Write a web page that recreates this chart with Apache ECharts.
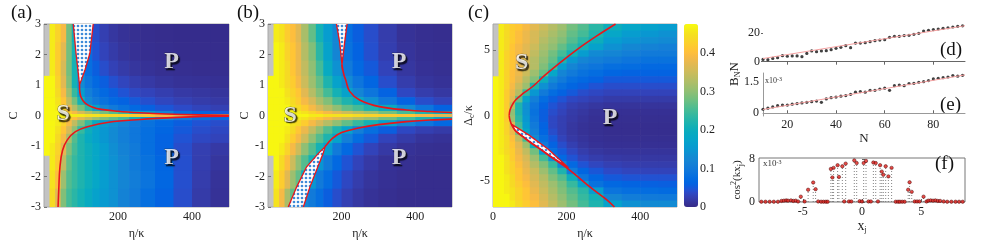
<!DOCTYPE html>
<html><head><meta charset="utf-8">
<script src="https://cdn.jsdelivr.net/npm/echarts@6/dist/echarts.min.js"></script>
<style>html,body{margin:0;padding:0;background:#fff}#c{width:983px;height:247px}</style>
</head><body><div id="c"></div><script>
// ---------- data ----------
const etaEdgesAB = [0,15,30,45,60,75,90,110,130,150,175,200,230,260,300,350,400,450,500];
const cEdges = [-3,-2.4,-1.8,-1.3,-0.9,-0.6,-0.35,-0.15,-0.05,0.05,0.15,0.35,0.6,0.9,1.3,1.8,2.4,3];
const etaEdgesC = [0,15,30,45,60,80,100,125,150,175,200,230,260,300,350,400,450,500];
const deltaEdges = [-7,-6.5,-6,-5.5,-5,-4.5,-4,-3.5,-3,-2.5,-2,-1.5,-1,-0.5,0,0.5,1,1.5,2,2.5,3,3.5,4,4.5,5,5.5,6,6.5,7];

// B_N N maps, rows listed from top (largest C / Delta) to bottom
const mapA = [
 [null,0.46,0.43,0.39,0.28,0.2,0.12,0.08,0.04,0.025,0.015,0.01,0.007,0.005,0.004,0.003,0.003,0.003],
 [null,0.46,0.42,0.37,0.28,0.21,0.13,0.08,0.045,0.03,0.02,0.013,0.009,0.006,0.005,0.004,0.004,0.004],
 [null,0.46,0.42,0.36,0.28,0.21,0.13,0.08,0.055,0.04,0.028,0.02,0.014,0.01,0.007,0.006,0.005,0.005],
 [0.47,0.47,0.43,0.37,0.29,0.21,0.13,0.09,0.07,0.055,0.042,0.032,0.024,0.018,0.013,0.01,0.009,0.008],
 [0.47,0.47,0.44,0.39,0.31,0.24,0.16,0.11,0.085,0.07,0.055,0.045,0.036,0.03,0.024,0.018,0.015,0.013],
 [0.47,0.47,0.45,0.41,0.34,0.28,0.21,0.13,0.1,0.085,0.07,0.06,0.05,0.042,0.033,0.026,0.021,0.018],
 [0.47,0.47,0.46,0.43,0.38,0.33,0.28,0.23,0.17,0.12,0.1,0.085,0.07,0.058,0.047,0.038,0.031,0.026],
 [0.47,0.47,0.47,0.45,0.42,0.39,0.36,0.33,0.3,0.28,0.26,0.24,0.2,0.16,0.12,0.08,0.06,0.05],
 [0.47,0.47,0.47,0.47,0.47,0.46,0.46,0.45,0.45,0.44,0.44,0.43,0.42,0.41,0.39,0.36,0.32,0.3],
 [0.47,0.47,0.47,0.45,0.43,0.4,0.37,0.34,0.31,0.29,0.27,0.25,0.21,0.17,0.13,0.1,0.08,0.07],
 [0.47,0.47,0.46,0.43,0.39,0.34,0.29,0.24,0.19,0.16,0.14,0.12,0.1,0.085,0.07,0.055,0.045,0.04],
 [0.47,0.47,0.45,0.41,0.36,0.3,0.24,0.2,0.17,0.15,0.13,0.11,0.095,0.08,0.065,0.05,0.04,0.035],
 [0.47,0.47,0.44,0.39,0.32,0.26,0.22,0.19,0.17,0.15,0.13,0.11,0.095,0.08,0.06,0.045,0.035,0.03],
 [0.47,0.46,0.43,0.37,0.29,0.25,0.22,0.2,0.18,0.16,0.135,0.115,0.1,0.08,0.06,0.04,0.025,0.018],
 [null,0.46,0.42,0.34,0.27,0.24,0.22,0.2,0.18,0.16,0.14,0.12,0.1,0.085,0.065,0.042,0.024,0.014],
 [null,0.45,0.4,0.31,0.26,0.24,0.22,0.2,0.18,0.16,0.14,0.12,0.105,0.088,0.066,0.042,0.022,0.011],
 [null,0.44,0.37,0.29,0.25,0.23,0.21,0.19,0.17,0.155,0.14,0.115,0.1,0.08,0.06,0.04,0.02,0.01]
];
const mapB = [
 [null,0.46,0.45,0.42,0.4,0.37,0.32,0.27,0.21,0.16,0.12,0.08,0.055,0.04,0.022,0.01,0.006,0.005],
 [null,0.47,0.46,0.43,0.41,0.38,0.33,0.29,0.23,0.17,0.12,0.085,0.06,0.042,0.024,0.012,0.007,0.006],
 [null,0.47,0.46,0.44,0.41,0.38,0.34,0.3,0.25,0.19,0.14,0.1,0.07,0.05,0.03,0.015,0.009,0.007],
 [0.47,0.47,0.46,0.44,0.42,0.39,0.35,0.31,0.27,0.22,0.17,0.13,0.09,0.065,0.04,0.022,0.013,0.01],
 [0.47,0.47,0.47,0.45,0.43,0.41,0.37,0.33,0.29,0.25,0.21,0.17,0.12,0.09,0.06,0.035,0.022,0.016],
 [0.47,0.47,0.47,0.46,0.44,0.42,0.39,0.36,0.32,0.29,0.25,0.22,0.19,0.14,0.095,0.06,0.04,0.03],
 [0.47,0.47,0.47,0.47,0.45,0.44,0.42,0.39,0.36,0.33,0.3,0.27,0.25,0.22,0.19,0.13,0.09,0.06],
 [0.47,0.47,0.47,0.47,0.47,0.46,0.45,0.43,0.41,0.39,0.37,0.35,0.33,0.31,0.28,0.25,0.22,0.2],
 [0.47,0.47,0.47,0.47,0.47,0.47,0.47,0.46,0.46,0.45,0.45,0.45,0.44,0.43,0.42,0.41,0.39,0.37],
 [0.47,0.47,0.47,0.47,0.47,0.46,0.45,0.43,0.41,0.39,0.37,0.35,0.33,0.31,0.28,0.25,0.22,0.18],
 [0.47,0.47,0.47,0.47,0.45,0.44,0.42,0.39,0.36,0.33,0.3,0.27,0.24,0.21,0.17,0.12,0.09,0.07],
 [0.47,0.47,0.47,0.46,0.44,0.41,0.38,0.34,0.3,0.26,0.22,0.17,0.11,0.08,0.055,0.035,0.025,0.02],
 [0.47,0.47,0.47,0.45,0.42,0.39,0.35,0.3,0.26,0.22,0.17,0.11,0.075,0.05,0.03,0.02,0.012,0.01],
 [0.47,0.47,0.46,0.43,0.39,0.35,0.3,0.26,0.21,0.16,0.1,0.07,0.045,0.03,0.018,0.01,0.007,0.006],
 [null,0.47,0.44,0.4,0.35,0.3,0.26,0.21,0.15,0.1,0.07,0.045,0.03,0.018,0.01,0.007,0.005,0.005],
 [null,0.46,0.42,0.37,0.31,0.27,0.2,0.15,0.1,0.075,0.05,0.035,0.022,0.013,0.008,0.005,0.004,0.004],
 [null,0.45,0.39,0.32,0.27,0.2,0.12,0.1,0.08,0.055,0.04,0.026,0.016,0.01,0.006,0.004,0.004,0.004]
];
const mapC = [
 [null,0.46,0.44,0.42,0.41,0.39,0.37,0.35,0.33,0.31,0.28,0.26,0.23,0.2,0.18,0.17,0.16],
 [null,0.46,0.44,0.42,0.4,0.38,0.36,0.34,0.32,0.3,0.27,0.25,0.22,0.18,0.16,0.15,0.14],
 [null,0.46,0.44,0.42,0.4,0.38,0.36,0.33,0.31,0.29,0.26,0.23,0.2,0.16,0.145,0.135,0.13],
 [null,0.46,0.44,0.41,0.39,0.37,0.35,0.32,0.3,0.27,0.24,0.21,0.17,0.14,0.125,0.115,0.11],
 [null,0.46,0.43,0.41,0.39,0.37,0.34,0.31,0.28,0.25,0.21,0.16,0.13,0.12,0.11,0.1,0.1],
 [null,0.46,0.43,0.41,0.39,0.36,0.33,0.3,0.27,0.22,0.15,0.12,0.11,0.1,0.09,0.085,0.085],
 [null,0.46,0.43,0.41,0.38,0.36,0.33,0.29,0.25,0.16,0.12,0.1,0.09,0.08,0.075,0.07,0.07],
 [null,0.46,0.43,0.4,0.38,0.35,0.31,0.27,0.18,0.12,0.1,0.085,0.075,0.065,0.06,0.06,0.06],
 [0.47,0.46,0.43,0.4,0.37,0.33,0.29,0.2,0.13,0.1,0.08,0.07,0.06,0.05,0.05,0.05,0.05],
 [0.47,0.46,0.43,0.39,0.35,0.31,0.22,0.14,0.1,0.08,0.065,0.055,0.045,0.04,0.04,0.04,0.04],
 [0.47,0.46,0.42,0.38,0.33,0.24,0.15,0.1,0.075,0.06,0.05,0.04,0.035,0.03,0.03,0.03,0.03],
 [0.47,0.46,0.42,0.37,0.27,0.17,0.11,0.075,0.055,0.045,0.035,0.03,0.025,0.02,0.02,0.02,0.02],
 [0.47,0.46,0.42,0.33,0.22,0.14,0.09,0.06,0.045,0.035,0.025,0.02,0.015,0.012,0.012,0.012,0.012],
 [0.47,0.46,0.42,0.3,0.22,0.14,0.085,0.055,0.04,0.03,0.02,0.015,0.01,0.008,0.008,0.008,0.008],
 [0.47,0.46,0.42,0.31,0.23,0.15,0.09,0.055,0.035,0.025,0.018,0.012,0.008,0.006,0.006,0.006,0.006],
 [0.47,0.46,0.43,0.36,0.25,0.16,0.1,0.06,0.035,0.025,0.015,0.01,0.007,0.005,0.005,0.005,0.005],
 [0.47,0.46,0.43,0.38,0.28,0.18,0.11,0.065,0.04,0.025,0.015,0.01,0.007,0.005,0.005,0.005,0.005],
 [0.47,0.46,0.44,0.4,0.34,0.25,0.13,0.08,0.05,0.03,0.018,0.012,0.008,0.006,0.006,0.006,0.006],
 [0.47,0.46,0.44,0.41,0.37,0.31,0.2,0.1,0.06,0.04,0.025,0.015,0.01,0.008,0.008,0.008,0.008],
 [0.47,0.46,0.44,0.42,0.38,0.34,0.28,0.16,0.08,0.05,0.035,0.022,0.015,0.012,0.012,0.012,0.012],
 [0.47,0.47,0.45,0.42,0.39,0.36,0.31,0.25,0.14,0.07,0.045,0.03,0.022,0.018,0.016,0.016,0.016],
 [0.47,0.47,0.45,0.43,0.4,0.37,0.33,0.29,0.24,0.12,0.07,0.045,0.033,0.026,0.023,0.022,0.022],
 [0.47,0.47,0.45,0.43,0.41,0.38,0.35,0.31,0.27,0.22,0.1,0.065,0.048,0.037,0.032,0.03,0.03],
 [0.47,0.47,0.46,0.44,0.41,0.39,0.36,0.33,0.29,0.26,0.2,0.09,0.065,0.05,0.046,0.044,0.044],
 [0.47,0.47,0.46,0.44,0.42,0.4,0.37,0.34,0.31,0.28,0.24,0.17,0.085,0.068,0.062,0.058,0.056],
 [0.47,0.47,0.46,0.45,0.43,0.41,0.38,0.35,0.32,0.29,0.26,0.23,0.16,0.088,0.08,0.075,0.072],
 [0.47,0.47,0.47,0.45,0.43,0.41,0.39,0.36,0.33,0.3,0.27,0.24,0.21,0.12,0.105,0.1,0.098],
 [0.47,0.47,0.47,0.46,0.44,0.42,0.4,0.37,0.34,0.31,0.28,0.25,0.22,0.17,0.14,0.13,0.13]
];

// phase boundaries (eta, C) and (eta, Delta)
const boundAUpper = [[96,1.0],[97,0.75],[102,0.55],[112,0.4],[130,0.28],[155,0.2],[200,0.14],[260,0.09],[330,0.05],[420,0.02],[500,0.01]];
const boundALower = [[38,-3],[40,-2.4],[43,-1.7],[50,-1.15],[63,-0.8],[85,-0.53],[120,-0.36],[175,-0.22],[260,-0.13],[360,-0.06],[430,-0.03],[500,-0.02]];
const hatchA = [[79,3],[86.5,2.04],[92.7,1.38],[96,1.0],[111,1.5],[124,2.04],[133,3]];
const boundBUpper = [[201,1.66],[206,1.35],[211,1.17],[222,0.79],[249,0.51],[303,0.29],[376,0.18],[440,0.13],[500,0.1]];
const boundBLower = [[155,-1.02],[175,-0.75],[200,-0.56],[250,-0.4],[300,-0.3],[376,-0.2],[440,-0.15],[500,-0.12]];
const hatchBTop = [[186,3],[195,2.38],[201,1.66],[208,2.38],[215,3]];
const hatchBBottom = [[55,-3],[78,-2.34],[105,-1.68],[137,-1.24],[155,-1.02],[150,-1.24],[132,-1.79],[114,-2.34],[96,-3]];
const boundCUpper = [[44,0],[46,0.4],[52,0.8],[62,1.2],[80,1.65],[107,2.2],[142,3.1],[185,4.1],[231,5.1],[280,6.05],[333,7]];
const boundCLower = [[44,0],[46,-0.35],[52,-0.8],[62,-1.2],[80,-1.6],[98,-2.0],[124,-2.5],[151,-3.05],[205,-4.1],[258,-5.35],[307,-6.4],[330,-7]];
const hatchC = [[52,-0.7],[98,-1.5],[151,-2.6],[205,-4.0],[151,-3.0],[98,-1.95],[60,-1.15]];

// panels (d), (e)
const nValues = [10,12,14,16,18,20,22,24,26,28,30,32,34,36,38,40,42,44,46,48,50,52,54,56,58,60,62,64,66,68,70,72,74,76,78,80,82,84,86,88,90,92];
const dValues = [1.6,1.4,2.3,2.8,4.2,3.8,4.0,4.0,3.5,5.8,7.5,7.0,7.5,7.7,8.4,9.3,10.0,11.2,9.8,13.0,13.0,13.3,14.0,14.7,15.1,15.4,17.0,17.7,17.7,18.2,18.4,19.1,19.8,21.4,21.9,22.4,22.8,23.3,23.7,24.2,24.7,25.0];
const eValues = [0.19,0.24,0.30,0.36,0.39,0.39,0.43,0.46,0.49,0.52,0.55,0.58,0.52,0.68,0.74,0.77,0.81,0.84,0.90,1.0,1.03,1.0,1.09,1.09,1.15,1.19,1.09,1.31,1.34,1.31,1.41,1.42,1.47,1.50,1.55,1.63,1.66,1.69,1.72,1.79,1.76,1.8];
const dFit = [[10,2.2],[93,25.1]];
const eFit = [[10,0.18],[93,1.82]];

// panel (f)
const fX = [-8.5,-8.15,-7.8,-7.45,-7.1,-6.8,-6.6,-6.4,-6.25,-6.0,-5.8,-5.6,-5.4,-5.17,-4.85,-4.55,-4.12,-3.92,-3.7,-3.45,-3.25,-3.05,-2.9,
 -2.63,-2.5,-2.4,-2.06,-1.95,-1.66,-1.5,-1.38,-1.1,-0.9,-0.65,-0.45,-0.2,0.0,0.14,0.34,0.55,0.75,0.96,1.16,1.35,1.53,1.67,1.8,2.0,2.23,2.5,
 2.85,3.05,3.2,3.4,3.6,3.9,4.02,4.2,4.45,4.65,4.85,5.2,5.45,5.6,5.8,6.0,6.2,6.4,6.6,6.9,7.2,7.55,7.9,8.2,8.5];
const fV = [0.05,0.05,0.05,0.05,0.05,0.2,0.25,0.3,0.25,0.3,0.2,0.25,0.1,1.0,0.1,2.3,3.65,2.4,0.1,0.05,0.05,0.05,0.05,
 6.2,4.6,6.4,6.9,4.7,6.7,0.1,7.2,0.1,0.1,7.8,7.3,0.15,0.1,7.3,7.7,0.1,0.1,7.4,7.3,0.1,6.9,5.7,5.1,6.7,4.8,6.4,
 0.05,0.05,0.05,0.05,0.05,2.3,3.7,1.9,0.1,0.1,0.1,1.0,0.1,0.25,0.3,0.25,0.3,0.2,0.2,0.1,0.05,0.05,0.05,0.05,0.05];

// tick labels
const etaTicksAB = [200,400];
const etaTicksC = [0,200,400];
const cTicks = [-3,-2,-1,0,1,2,3];
const deltaTicks = [-5,0,5];
const cbarTicks = [0,0.1,0.2,0.3,0.4];
const nTicks = [20,40,60,80];
const xjTicks = [-5,0,5];

// ---------- rendering ----------
const FONT = "'Liberation Serif','Times New Roman',serif";
const parulaRGB = [[0.2081,0.1663,0.5292],[0.2116,0.1898,0.5777],[0.2123,0.2138,0.6270],[0.2081,0.2386,0.6771],[0.1959,0.2645,0.7279],
 [0.1707,0.2919,0.7792],[0.1253,0.3242,0.8303],[0.0591,0.3598,0.8683],[0.0117,0.3875,0.8820],[0.0060,0.4086,0.8828],[0.0165,0.4266,0.8786],
 [0.0329,0.4430,0.8720],[0.0498,0.4586,0.8641],[0.0629,0.4737,0.8554],[0.0723,0.4887,0.8467],[0.0779,0.5040,0.8384],[0.0793,0.5200,0.8312],
 [0.0749,0.5375,0.8263],[0.0641,0.5570,0.8240],[0.0488,0.5772,0.8228],[0.0343,0.5966,0.8199],[0.0265,0.6137,0.8135],[0.0239,0.6287,0.8038],
 [0.0231,0.6418,0.7913],[0.0228,0.6535,0.7768],[0.0267,0.6642,0.7607],[0.0384,0.6743,0.7436],[0.0590,0.6838,0.7254],[0.0843,0.6928,0.7062],
 [0.1133,0.7015,0.6859],[0.1453,0.7098,0.6646],[0.1801,0.7177,0.6424],[0.2178,0.7250,0.6193],[0.2586,0.7317,0.5954],[0.3022,0.7376,0.5712],
 [0.3482,0.7424,0.5473],[0.3953,0.7459,0.5244],[0.4420,0.7481,0.5033],[0.4871,0.7491,0.4840],[0.5300,0.7491,0.4661],[0.5709,0.7485,0.4494],
 [0.6099,0.7473,0.4337],[0.6473,0.7456,0.4188],[0.6834,0.7435,0.4044],[0.7184,0.7411,0.3905],[0.7525,0.7384,0.3768],[0.7858,0.7356,0.3633],
 [0.8185,0.7327,0.3498],[0.8507,0.7299,0.3360],[0.8824,0.7274,0.3217],[0.9139,0.7258,0.3063],[0.9450,0.7261,0.2886],[0.9739,0.7314,0.2666],
 [0.9938,0.7455,0.2403],[0.9990,0.7653,0.2164],[0.9955,0.7861,0.1967],[0.9880,0.8066,0.1794],[0.9789,0.8271,0.1633],[0.9697,0.8481,0.1475],
 [0.9626,0.8705,0.1309],[0.9589,0.8949,0.1132],[0.9598,0.9218,0.0948],[0.9661,0.9514,0.0755],[0.9763,0.9831,0.0538]];
const parula = parulaRGB.map(c => 'rgb(' + c.map(v => Math.round(v*255)).join(',') + ')');
const RED = '#e8161b';

function buildCells(xe, ye, rows){
  const out = []; const nR = ye.length - 1;
  rows.forEach((row, ri) => {
    const yi = nR - 1 - ri;
    row.forEach((v, ci) => { if (v != null) out.push([xe[ci], xe[ci+1], ye[yi], ye[yi+1], v]); });
  });
  return out;
}
function cellRender(params, api){
  const p0 = api.coord([api.value(0), api.value(3)]);
  const p1 = api.coord([api.value(1), api.value(2)]);
  return {type:'rect', shape:{x:p0[0], y:p0[1], width:p1[0]-p0[0]+0.6, height:p1[1]-p0[1]+0.6},
    style:{fill: api.visual('color')}};
}
const pc = document.createElement('canvas'); pc.width = 4; pc.height = 4;
const g = pc.getContext('2d'); g.fillStyle = '#ffffff'; g.fillRect(0,0,4,4);
g.fillStyle = '#3d8ad8'; g.beginPath(); g.arc(2,2,1.35,0,Math.PI*2); g.fill();
const patternFill = {image: pc, repeat: 'repeat'};

function heatSeries(gi, xe, ye, rows){
  return {type:'custom', xAxisIndex:gi, yAxisIndex:gi, data: buildCells(xe, ye, rows),
    encode:{x:[0,1], y:[2,3]}, renderItem: cellRender, silent:true, z:1, clip:true};
}
function hatchSeries(gi, pts, closed){
  return {type:'custom', xAxisIndex:gi, yAxisIndex:gi, data:[[pts[0][0], pts[0][1]]], silent:true, z:3, clip:true,
    renderItem:(params, api) => {
      const p = pts.map(q => api.coord(q));
      return {type:'group', children:[
        {type:'polygon', shape:{points:p}, style:{fill: patternFill}},
        {type: closed ? 'polygon' : 'polyline', shape:{points:p}, style:{fill:null, stroke:RED, lineWidth:1.3}}
      ]};
    }};
}
function lineSeries(gi, pts, width){
  return {type:'line', xAxisIndex:gi, yAxisIndex:gi, data:pts, smooth:0.4, symbol:'none', silent:true, z:4,
    lineStyle:{color:RED, width: width || 1.6}};
}
function phaseLabels(gi, items){
  return {type:'scatter', xAxisIndex:gi, yAxisIndex:gi, data:items, symbolSize:0, silent:true, z:6,
    label:{show:true, position:'inside', formatter: p => p.data[2], fontFamily:FONT, fontWeight:'bold', fontSize:24,
      color:'#ffffff', textBorderColor:'#222', textBorderWidth:0.5, textShadowColor:'rgba(0,0,0,0.9)',
      textShadowBlur:1, textShadowOffsetX:1.5, textShadowOffsetY:1.5}};
}
const lblStyle = {fontFamily:FONT, fontSize:12, color:'#222'};
const subRich = {s:{fontFamily:FONT, fontSize:8, color:'#222', padding:[7,0,0,0]},
                 u:{fontFamily:FONT, fontSize:8, color:'#222', padding:[0,0,7,0]}};

function etaAxis(gi, ticks){
  return {gridIndex:gi, type:'value', min:0, max:500, splitLine:{show:false}, axisLine:{show:false},
    axisTick:{show:true, inside:true, length:3, customValues:ticks, lineStyle:{color:'#777'}},
    axisLabel:Object.assign({customValues:ticks, margin:4}, lblStyle),
    name:'η/κ', nameLocation:'middle', nameGap:17, nameTextStyle:Object.assign({}, lblStyle)};
}
function cAxis(gi, gap){
  return {gridIndex:gi, type:'value', min:-3, max:3, splitLine:{show:false}, axisLine:{show:false},
    axisTick:{show:true, inside:true, length:3, customValues:cTicks, lineStyle:{color:'#777'}},
    axisLabel:Object.assign({customValues:cTicks, margin:3}, lblStyle),
    name:'C', nameLocation:'middle', nameGap:gap, nameTextStyle:Object.assign({}, lblStyle)};
}
const heatGrid = {show:true, backgroundColor:'#c3c3c3', borderColor:'#a8a8a8', borderWidth:1};

const option = {
  animation:false,
  grid:[
    Object.assign({left:44, top:24, width:185, height:183}, heatGrid),
    Object.assign({left:268, top:24, width:184, height:183}, heatGrid),
    Object.assign({left:493, top:24, width:184, height:183}, heatGrid),
    {left:684, top:24, width:14, height:183},
    {left:763, top:23, width:202, height:43},
    {left:763, top:73, width:202, height:43},
    {left:759, top:158, width:206, height:44, show:true, borderColor:'#777', borderWidth:1}
  ],
  xAxis:[
    etaAxis(0, etaTicksAB), etaAxis(1, etaTicksAB), etaAxis(2, etaTicksC),
    {gridIndex:3, type:'value', show:false, min:0, max:1},
    {gridIndex:4, type:'value', position:'top', min:10, max:93, splitLine:{show:false},
      axisLine:{show:true, lineStyle:{color:'#666'}}, axisLabel:{show:false},
      axisTick:{show:true, inside:true, length:3, customValues:nTicks, lineStyle:{color:'#666'}}},
    {gridIndex:5, type:'value', min:10, max:93, splitLine:{show:false},
      axisLine:{show:true, lineStyle:{color:'#999'}},
      axisTick:{show:true, inside:true, length:3, customValues:nTicks, lineStyle:{color:'#666'}},
      axisLabel:Object.assign({customValues:nTicks, margin:3}, lblStyle),
      name:'N', nameLocation:'middle', nameGap:16, nameTextStyle:Object.assign({}, lblStyle, {fontSize:13})},
    {gridIndex:6, type:'value', min:-8.7, max:8.7, splitLine:{show:false}, axisLine:{show:false},
      axisTick:{show:true, inside:true, length:3, customValues:xjTicks, lineStyle:{color:'#666'}},
      axisLabel:Object.assign({customValues:xjTicks, margin:4}, lblStyle),
      name:'x{s|j}', nameLocation:'middle', nameGap:17, nameTextStyle:Object.assign({}, lblStyle, {fontSize:14, rich:subRich})}
  ],
  yAxis:[
    cAxis(0, 24), cAxis(1, 12),
    {gridIndex:2, type:'value', min:-7, max:7, splitLine:{show:false}, axisLine:{show:false},
      axisTick:{show:true, inside:true, length:3, customValues:deltaTicks, lineStyle:{color:'#777'}},
      axisLabel:Object.assign({customValues:deltaTicks, margin:3}, lblStyle),
      name:'Δ{s|c}/κ', nameLocation:'middle', nameGap:12, nameTextStyle:Object.assign({}, lblStyle, {rich:subRich})},
    {gridIndex:3, type:'value', position:'right', min:0, max:0.475, splitLine:{show:false}, axisLine:{show:false},
      axisTick:{show:false}, axisLabel:Object.assign({customValues:cbarTicks, margin:2}, lblStyle)},
    {gridIndex:4, type:'value', min:-3, max:27, splitLine:{show:false}, axisLine:{show:false},
      axisTick:{show:true, length:2, customValues:[0,20], lineStyle:{color:'#666'}},
      axisLabel:Object.assign({customValues:[0,20], margin:3}, lblStyle)},
    {gridIndex:5, type:'value', min:-0.13, max:1.91, splitLine:{show:false},
      axisLine:{show:true, lineStyle:{color:'#999'}}, axisTick:{show:false},
      axisLabel:Object.assign({customValues:[0,1.5], margin:4}, lblStyle)},
    {gridIndex:6, type:'value', min:0, max:8.25, splitLine:{show:false}, axisLine:{show:false},
      axisTick:{show:true, inside:true, length:3, customValues:[0,8], lineStyle:{color:'#666'}},
      axisLabel:Object.assign({customValues:[0,8], margin:4}, lblStyle),
      name:'cos{u|2}(kx{s|j})', nameLocation:'middle', nameGap:9, nameTextStyle:Object.assign({}, lblStyle, {fontSize:11, rich:subRich})}
  ],
  visualMap:{type:'continuous', min:0, max:0.475, dimension:4, seriesIndex:[0,1,2], inRange:{color:parula},
    show:true, calculable:false, left:684, top:24, itemWidth:14, itemHeight:183, padding:0, text:null, hoverLink:false,
    textStyle:{color:'rgba(0,0,0,0)'}},
  graphic:[
    {type:'text', left:11, top:4, style:{text:'(a)', font:'19px ' + FONT, fill:'#111'}},
    {type:'text', left:237, top:4, style:{text:'(b)', font:'19px ' + FONT, fill:'#111'}},
    {type:'text', left:468, top:4, style:{text:'(c)', font:'19px ' + FONT, fill:'#111'}},
    {type:'text', left:940, top:41, style:{text:'(d)', font:'19px ' + FONT, fill:'#111'}},
    {type:'text', left:940, top:96, style:{text:'(e)', font:'19px ' + FONT, fill:'#111'}},
    {type:'text', left:935, top:155, style:{text:'(f)', font:'19px ' + FONT, fill:'#111'}},
    {type:'text', x:727, y:86, rotation:Math.PI/2, style:{text:'B{s|N}N', fontFamily:FONT, fontSize:13, fill:'#222', rich:subRich}},
    {type:'text', left:765, top:76, style:{text:'x10{u|-3}', fontFamily:FONT, fontSize:8, fill:'#333', rich:{u:{fontFamily:FONT, fontSize:6, padding:[0,0,4,0]}}}},
    {type:'text', left:763, top:159, style:{text:'x10{u|-3}', fontFamily:FONT, fontSize:9, fill:'#333', rich:{u:{fontFamily:FONT, fontSize:6, padding:[0,0,4,0]}}}}
  ],
  series:[
    heatSeries(0, etaEdgesAB, cEdges, mapA),
    heatSeries(1, etaEdgesAB, cEdges, mapB),
    heatSeries(2, etaEdgesC, deltaEdges, mapC),
    hatchSeries(0, hatchA, false),
    hatchSeries(1, hatchBTop, false),
    hatchSeries(1, hatchBBottom, false),
    hatchSeries(2, hatchC, true),
    lineSeries(0, boundAUpper), lineSeries(0, boundALower),
    lineSeries(1, boundBUpper), lineSeries(1, boundBLower),
    lineSeries(2, boundCUpper), lineSeries(2, boundCLower),
    phaseLabels(0, [[52,0.05,'S'],[345,1.75,'P'],[345,-1.4,'P']]),
    phaseLabels(1, [[60,0.0,'S'],[356,1.75,'P'],[356,-1.4,'P']]),
    phaseLabels(2, [[78,4.0,'S'],[318,-0.2,'P']]),
    {type:'scatter', xAxisIndex:3, yAxisIndex:3, data:[], silent:true},
    {type:'line', xAxisIndex:4, yAxisIndex:4, data:dFit, symbol:'none', silent:true, lineStyle:{color:'#f4a0a0', width:1}},
    {type:'scatter', xAxisIndex:4, yAxisIndex:4, data:nValues.map((n,i)=>[n,dValues[i]]), symbolSize:3.2, itemStyle:{color:'#111'}, silent:true},
    {type:'line', xAxisIndex:5, yAxisIndex:5, data:eFit, symbol:'none', silent:true, lineStyle:{color:'#f4a0a0', width:1}},
    {type:'scatter', xAxisIndex:5, yAxisIndex:5, data:nValues.map((n,i)=>[n,eValues[i]]), symbolSize:3.2, itemStyle:{color:'#111'}, silent:true},
    {type:'custom', xAxisIndex:6, yAxisIndex:6, data:fX.map((x,i)=>[x,fV[i]]), silent:true, z:2,
      renderItem:(params, api) => {
        const a = api.coord([api.value(0), 0]); const b = api.coord([api.value(0), api.value(1)]);
        return {type:'line', shape:{x1:a[0], y1:a[1], x2:b[0], y2:b[1]}, style:{stroke:'#666', lineWidth:0.8, lineDash:[1,2]}};
      }},
    {type:'scatter', xAxisIndex:6, yAxisIndex:6, data:fX.map((x,i)=>[x,fV[i]]), symbolSize:3.4, z:3, silent:true,
      itemStyle:{color:'#e3201c', borderColor:'#400', borderWidth:0.6}}
  ]
};
const chart = echarts.init(document.getElementById('c'), null, {renderer:'canvas'});
chart.setOption(option);
</script></body></html>
